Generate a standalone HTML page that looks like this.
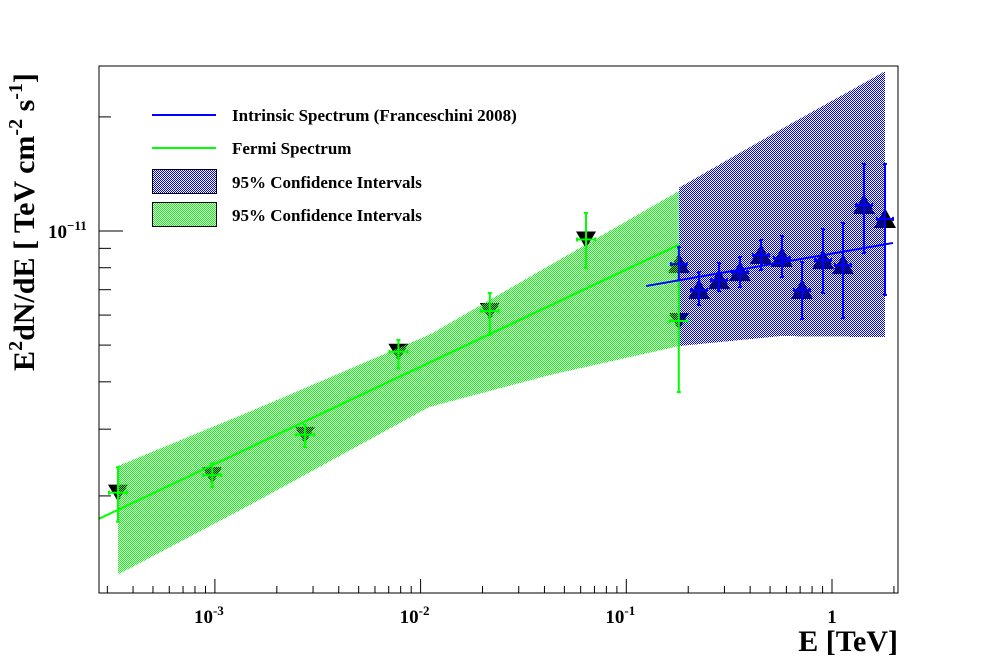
<!DOCTYPE html>
<html><head><meta charset="utf-8"><style>
html,body{margin:0;padding:0;background:#fff;}
svg{display:block;font-family:"Liberation Serif",serif;font-weight:bold;}
</style></head><body>
<svg id="chart" width="998" height="662" viewBox="0 0 998 662" xmlns="http://www.w3.org/2000/svg">
<defs>
<pattern id="pg" width="2" height="2" patternUnits="userSpaceOnUse"><rect x="0" y="0" width="1" height="1" fill="#00ff00"/><rect x="1" y="1" width="1" height="1" fill="#00ff00"/></pattern>
<pattern id="pb" width="2" height="2" patternUnits="userSpaceOnUse"><rect x="0" y="0" width="1" height="1" fill="#0000ff"/><rect x="1" y="1" width="1" height="1" fill="#0000ff"/></pattern>
</defs>
<rect x="0" y="0" width="998" height="662" fill="#fff"/>
<g id="plot"></g>
<rect x="99" y="66" width="799" height="527" fill="none" stroke="#000" stroke-width="1"/>
<g id="axes"></g>
<text transform="translate(34,222) rotate(-90)" text-anchor="middle" font-size="30">E<tspan font-size="20" dy="-12">2</tspan><tspan dy="12">dN/dE [ TeV cm</tspan><tspan font-size="20" dy="-12">-2</tspan><tspan dy="12"> s</tspan><tspan font-size="20" dy="-12">-1</tspan><tspan dy="12">]</tspan></text>
<text x="898" y="651" text-anchor="end" font-size="30">E [TeV]</text>
<g font-size="17">
<line x1="152" y1="115" x2="216" y2="115" stroke="#0000ff" stroke-width="2"/>
<text x="232" y="121">Intrinsic Spectrum (Franceschini 2008)</text>
<line x1="152" y1="148" x2="216" y2="148" stroke="#00ff00" stroke-width="2"/>
<text x="232" y="154">Fermi Spectrum</text>
<rect x="152.5" y="169.5" width="64" height="24" fill="url(#pb)" stroke="#000"/>
<text x="232" y="188">95% Confidence Intervals</text>
<rect x="152.5" y="202.5" width="64" height="24" fill="url(#pg)" stroke="#000"/>
<text x="232" y="221">95% Confidence Intervals</text>
</g>
</svg>
<script>
// ---- data ----
const fermiE = [3.38e-4, 9.7e-4, 2.74e-3, 7.8e-3, 0.0217, 0.0637, 0.18];
const fermiV = [2.04e-12, 2.27e-12, 2.9e-12, 4.8e-12, 6.15e-12, 9.5e-12, 5.79e-12];
const fermiHi = [2.38e-12, 2.44e-12, 3.08e-12, 5.16e-12, 6.86e-12, 1.116e-11, 9.02e-12];
const fermiLo = [1.71e-12, 2.11e-12, 2.69e-12, 4.35e-12, 5.32e-12, 7.99e-12, 3.76e-12];
const hessE = [0.18, 0.2256, 0.2824, 0.357, 0.452, 0.571, 0.715, 0.904, 1.131, 1.43, 1.81];
const hessV = [8.18e-12, 6.99e-12, 7.42e-12, 7.79e-12, 8.64e-12, 8.49e-12, 6.99e-12, 8.38e-12, 8.13e-12, 1.171e-11, 1.076e-11];
const hessHi = [9.07e-12, 7.79e-12, 8.23e-12, 8.54e-12, 9.47e-12, 9.70e-12, 8.28e-12, 1.012e-11, 1.05e-11, 1.503e-11, 1.503e-11];
const hessLo = [7.42e-12, 6.38e-12, 6.94e-12, 7.11e-12, 7.89e-12, 7.56e-12, 5.86e-12, 6.86e-12, 5.89e-12, 8.75e-12, 6.78e-12];
const fermiBandE = [3.38e-4, 1.5e-3, 0.011, 0.0426, 0.18];
const fermiBandHi = [2.40e-12, 3.35e-12, 5.32e-12, 8.13e-12, 1.275e-11];
const fermiBandLo = [1.24e-12, 1.9e-12, 3.43e-12, 4.17e-12, 4.97e-12];
const hessBandE = [0.18, 0.56, 1.81];
const hessBandHi = [1.3e-11, 1.85e-11, 2.64e-11];
const hessBandLo = [4.97e-12, 5.28e-12, 5.25e-12];
const fermiLineE = [2.73e-4, 0.18];
const fermiLineV = [1.74e-12, 9.2e-12];
const hessLineE = [0.125, 1.98];
const hessLineV = [7.16e-12, 9.3e-12];
const xTickVals = [1e-3, 1e-2, 1e-1, 1];
const xTickExp = ["-3", "-2", "-1", ""];
const yTickVals = [1e-11];
const yTickExp = ["-11"];

// ---- axes ----
function X(e){ return 832 + 205.7*Math.log10(e); }
function Y(v){ return 231 - 379*Math.log10(v/1e-11); }
const NS='http://www.w3.org/2000/svg';
const plot=document.getElementById('plot'), axes=document.getElementById('axes');
function mk(tag, attrs, parent){ const el=document.createElementNS(NS,tag); for(const k in attrs) el.setAttribute(k,attrs[k]); parent.appendChild(el); return el; }

// bands
function bandPath(E,hi,lo){ let d=''; E.forEach((e,i)=>{ d+=(i?'L':'M')+X(e).toFixed(1)+','+Y(hi[i]).toFixed(1); }); for(let i=E.length-1;i>=0;i--) d+='L'+X(E[i]).toFixed(1)+','+Y(lo[i]).toFixed(1); return d+'Z'; }

// triangles (under the bands)
fermiE.forEach((e,i)=>{ const x=X(e), y=Y(fermiV[i]);
 const t=mk('polygon',{points:`${x-10},${y-8} ${x+10},${y-8} ${x},${y+9}`,fill:'#000'},plot);
 
  });
hessE.forEach((e,i)=>{ const x=X(e), y=Y(hessV[i]);
 const t=mk('polygon',{points:`${x-11},${y+9} ${x+11},${y+9} ${x},${y-11}`,fill:'#000'},plot);
 
  });

const fb=mk('path',{d:bandPath(fermiBandE,fermiBandHi,fermiBandLo),fill:'url(#pg)','shape-rendering':'crispEdges'},plot);


const hb=mk('path',{d:bandPath(hessBandE,hessBandHi,hessBandLo),fill:'url(#pb)','shape-rendering':'crispEdges'},plot);



// error bars
function errs(E,V,H,L,col,name,hw){
 E.forEach((e,i)=>{ const x=X(e), y=Y(V[i]), yh=Y(H[i]), yl=Y(L[i]);
  const g=mk('g',{stroke:col,'stroke-width':2},plot);
  
  
  mk('line',{x1:x,y1:yh,x2:x,y2:yl},g);
  mk('line',{x1:x-2,y1:yh,x2:x+2,y2:yh},g);
  mk('line',{x1:x-2,y1:yl,x2:x+2,y2:yl},g);
  mk('line',{x1:x-hw,y1:y,x2:x+hw,y2:y},g);
  mk('line',{x1:x-hw,y1:y-2,x2:x-hw,y2:y+2},g);
  mk('line',{x1:x+hw,y1:y-2,x2:x+hw,y2:y+2},g);
 });
}
errs(fermiE,fermiV,fermiHi,fermiLo,'#00ff00','fermi',9);
errs(hessE,hessV,hessHi,hessLo,'#0000ff','hess',8);

// lines
const fl=mk('line',{x1:X(fermiLineE[0]),y1:Y(fermiLineV[0]),x2:X(fermiLineE[1]),y2:Y(fermiLineV[1]),stroke:'#00ff00','stroke-width':2},plot);


const hl=mk('line',{x1:X(hessLineE[0]),y1:Y(hessLineV[0]),x2:X(hessLineE[1]),y2:Y(hessLineV[1]),stroke:'#0000ff','stroke-width':2},plot);



// x ticks
for(let d=-4; d<=0; d++){ for(let m=1;m<=9;m++){ const e=m*Math.pow(10,d); const x=X(e); if(x<99.5||x>897.5) continue;
 const len=(m===1)?14:7; const t=mk('line',{x1:x,y1:593,x2:x,y2:593-len,stroke:'#000','stroke-width':1},axes);
 
  } }
xTickVals.forEach((v,i)=>{ const x=X(v);
 const t=mk('text',{x:x,y:623,'text-anchor':'middle','font-size':19},axes);
 
 
 if(xTickExp[i]){ t.setAttribute('x',x-6); t.textContent='10'; const s=mk('tspan',{dy:-8,'font-size':13},t); s.textContent=xTickExp[i]; }
 else { t.textContent='1'; } });
// y ticks
for(let d=-12; d<=-11; d++){ for(let m=1;m<=9;m++){ const v=m*Math.pow(10,d); const y=Y(v); if(y<66.5||y>592.5) continue;
 const len=(m===1)?24:12; const t=mk('line',{x1:99,y1:y,x2:99+len,y2:y,stroke:'#000','stroke-width':1},axes);
 
  } }
yTickVals.forEach((v,i)=>{ const y=Y(v);
 const t=mk('text',{x:48,y:y+7,'font-size':19},axes);
 
 
 t.textContent='10'; const s=mk('tspan',{dy:-8,'font-size':13},t); s.textContent='\u2212'+yTickExp[i].slice(1); });
</script>
</body></html>
